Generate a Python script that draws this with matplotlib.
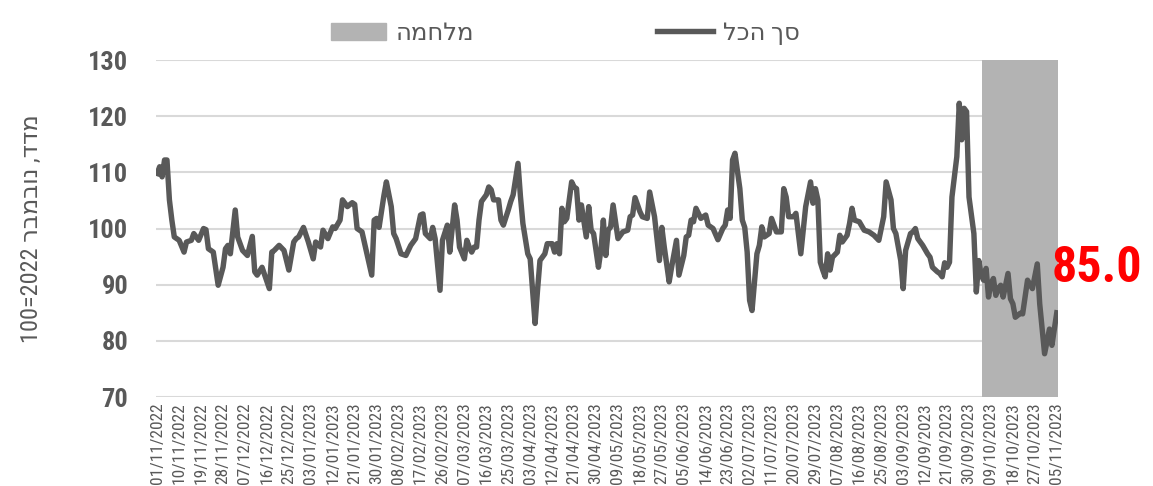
# consumer spending index, daily, Nov 2022 - Nov 2023

import matplotlib
matplotlib.use('Agg')
import matplotlib.pyplot as plt
from matplotlib.patches import Patch
from matplotlib.lines import Line2D

# days since 01/11/2022 and index value
day = [0, 1, 2, 3, 4, 5, 6, 7, 9, 11, 12, 14, 15, 17, 19, 20, 21, 23, 25, 27,
       28, 29, 30, 32, 33, 35, 37, 39, 40, 41, 43, 46, 47, 48, 50, 52, 54, 56, 57, 58,
       60, 62, 64, 65, 67, 68, 70, 72, 73, 75, 76, 78, 80, 81, 82, 84, 88, 89, 90, 91,
       93, 94, 96, 97, 98, 100, 102, 104, 106, 108, 109, 110, 112, 113, 114, 116, 117, 119, 120, 122,
       123, 124, 126, 127, 128, 129, 130, 131, 132, 133, 135, 136, 137, 138, 140, 141, 142, 144, 145, 146,
       148, 149, 150, 152, 153, 155, 156, 157, 159, 160, 162, 163, 164, 165, 166, 167, 168, 170, 171, 172,
       173, 174, 176, 177, 178, 179, 181, 182, 183, 184, 185, 186, 187, 188, 189, 191, 193, 194, 195, 196,
       198, 199, 201, 202, 204, 206, 207, 208, 210, 211, 213, 214, 216, 217, 218, 219, 220, 221, 223, 224,
       225, 226, 228, 230, 232, 233, 234, 235, 236, 237, 239, 240, 241, 242, 243, 244, 246, 247, 248, 249,
       251, 252, 254, 256, 257, 258, 259, 261, 262, 264, 265, 266, 268, 269, 270, 271, 272, 273, 274, 275,
       276, 277, 279, 280, 281, 283, 284, 285, 286, 288, 290, 292, 294, 296, 298, 299, 301, 302, 303, 305,
       306, 307, 309, 310, 311, 312, 314, 316, 317, 318, 320, 321, 322, 323, 324, 325, 326, 328, 329, 330,
       331, 332, 333, 335, 336, 337, 338, 339, 340, 341, 342, 343, 344, 345, 346, 347, 349, 350, 351, 352,
       354, 355, 357, 359, 361, 362, 364, 366, 367, 369]
total = [109.8, 111.0, 109.2, 112.2, 112.2, 105.1, 101.5, 98.5, 97.9, 95.8, 97.6, 97.9, 99.1, 97.9, 100.0, 99.8, 96.4, 95.8, 89.9, 93.1,
         96.4, 97.0, 95.5, 103.3, 98.5, 96.1, 95.2, 98.6, 92.3, 91.7, 93.1, 89.3, 95.8, 96.1, 97.0, 96.1, 92.6, 97.6, 98.2, 98.5,
         100.2, 97.6, 94.6, 97.6, 96.7, 99.7, 98.2, 100.3, 100.0, 101.5, 105.1, 103.9, 104.6, 104.3, 100.0, 99.4, 91.7, 101.5, 101.8, 100.2,
         105.9, 108.3, 103.9, 99.1, 98.2, 95.5, 95.2, 97.0, 98.2, 102.4, 102.6, 99.1, 98.2, 100.2, 98.2, 89.0, 97.9, 100.6, 95.8, 104.2,
         101.5, 96.7, 94.6, 97.9, 96.7, 95.8, 96.7, 96.7, 101.5, 104.8, 106.0, 107.4, 106.9, 105.1, 105.1, 101.5, 100.6, 103.3, 104.8, 106.0,
         111.6, 105.7, 100.9, 95.5, 94.6, 83.1, 89.0, 94.3, 95.5, 97.3, 97.3, 95.8, 97.3, 95.5, 103.6, 101.2, 101.8, 108.3, 107.4, 107.1,
         101.5, 104.2, 98.5, 103.9, 99.7, 99.1, 93.1, 96.1, 101.5, 95.2, 99.7, 100.3, 104.2, 101.2, 98.2, 99.4, 99.7, 102.1, 102.4, 105.5,
         103.0, 102.1, 101.8, 106.5, 102.1, 94.3, 100.2, 96.7, 90.5, 93.1, 97.9, 91.7, 95.2, 98.5, 98.8, 101.5, 101.2, 103.6, 101.8, 102.1,
         102.4, 100.6, 100.0, 98.0, 100.0, 100.6, 103.3, 101.8, 112.2, 113.4, 107.1, 101.5, 100.2, 95.8, 87.2, 85.4, 95.5, 97.0, 100.3, 98.5,
         99.1, 101.8, 99.4, 99.4, 107.1, 105.6, 102.1, 102.1, 102.7, 95.5, 99.7, 103.9, 108.3, 104.5, 107.1, 105.1, 94.0, 92.6, 91.4, 95.5,
         92.6, 94.9, 95.8, 98.8, 97.6, 98.8, 100.9, 103.6, 101.5, 101.2, 99.7, 99.4, 98.8, 97.9, 102.1, 108.3, 105.1, 100.0, 99.1, 94.3,
         89.3, 96.1, 99.1, 99.4, 100.0, 98.2, 97.0, 95.5, 94.9, 93.1, 92.3, 92.0, 91.4, 93.9, 93.1, 94.0, 105.6, 112.8, 122.3, 115.8,
         121.4, 120.8, 105.6, 99.1, 88.7, 94.3, 91.7, 90.8, 92.9, 87.8, 90.2, 91.1, 88.1, 89.3, 89.9, 87.8, 92.0, 87.5, 86.6, 84.2,
         84.9, 84.8, 90.8, 89.3, 93.7, 86.6, 77.7, 82.1, 79.2, 85.0]

# first day of the war shading (06/10/2023) and last day of data
war_start = 339
last_day = 369

tick_days = list(range(0, 370, 9))
tick_labels = ['01/11/2022', '10/11/2022', '19/11/2022', '28/11/2022', '07/12/2022', '16/12/2022',
               '25/12/2022', '03/01/2023', '12/01/2023', '21/01/2023', '30/01/2023', '08/02/2023',
               '17/02/2023', '26/02/2023', '07/03/2023', '16/03/2023', '25/03/2023', '03/04/2023',
               '12/04/2023', '21/04/2023', '30/04/2023', '09/05/2023', '18/05/2023', '27/05/2023',
               '05/06/2023', '14/06/2023', '23/06/2023', '02/07/2023', '11/07/2023', '20/07/2023',
               '29/07/2023', '07/08/2023', '16/08/2023', '25/08/2023', '03/09/2023', '12/09/2023',
               '21/09/2023', '30/09/2023', '09/10/2023', '18/10/2023', '27/10/2023', '05/11/2023']

# hebrew strings, flipped to visual order since matplotlib has no bidi
war_label = 'מלחמה'[::-1]
total_label = 'סך הכל'[::-1]
y_label = '100=2022 ' + 'נובמבר'[::-1] + ' ,' + 'מדד'[::-1]

plt.rcParams['font.family'] = ['Roboto Condensed', 'DejaVu Sans Condensed',
                               'Liberation Sans Narrow', 'DejaVu Sans']

grey = '#595959'
shade = '#b3b3b3'

fig = plt.figure(figsize=(11.53, 4.86), dpi=100)
ax = fig.add_axes([0.1353, 0.1831, 0.7823, 0.6934])

ax.axvspan(war_start - 0.5, last_day + 0.5, color=shade, lw=0, zorder=1)
ax.plot(day, total, color=grey, lw=3.9, solid_joinstyle='round', zorder=3)

ax.set_xlim(-0.5, last_day + 0.5)
ax.set_ylim(70, 130)
ax.set_yticks(range(70, 131, 10))
ax.yaxis.grid(True, color='#d9d9d9', lw=1.5, zorder=0)
ax.set_axisbelow(True)
for s in ax.spines.values():
    s.set_visible(False)

ax.set_xticks(tick_days)
ax.set_xticklabels(tick_labels, rotation=90, fontsize=12.5, color=grey)
ax.tick_params(axis='x', length=0, pad=4)
ax.tick_params(axis='y', length=0, pad=20, labelsize=19, labelcolor=grey)
for t in ax.get_yticklabels():
    t.set_fontweight('bold')

ax.set_ylabel(y_label, fontsize=17.5, color=grey)
ax.yaxis.set_label_coords(-0.125, 0.5)

# last value in red on the right
ax.text(day[-1] - 2, total[-1] + 7.9, f'{total[-1]:.1f}', color='red', fontsize=36,
        fontweight='bold', ha='left', va='center', clip_on=False, zorder=4)

handles = [Patch(color=shade), Line2D([0], [0], color=grey, lw=3.9)]
fig.legend(handles, [war_label, total_label], loc='upper center', bbox_to_anchor=(0.49, 1.0),
           ncol=2, frameon=False, fontsize=17.5, labelcolor=grey, columnspacing=7.5,
           handlelength=2.3, handletextpad=0.4)

fig.savefig('out.png', dpi=100)
